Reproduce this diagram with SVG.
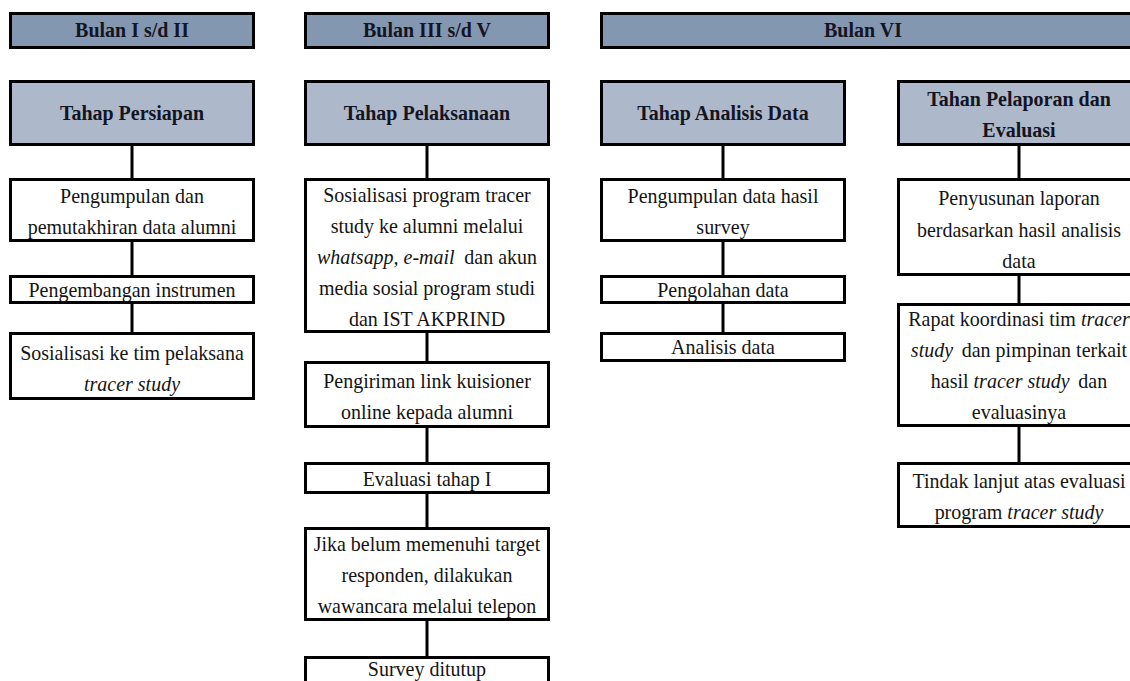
<svg xmlns="http://www.w3.org/2000/svg" width="1130" height="681" viewBox="0 0 1130 681">
<style>
.month{fill:#8497b0;stroke:#000;stroke-width:3}
.phase{fill:#adb9ca;stroke:#000;stroke-width:3}
.box{fill:#fff;stroke:#000;stroke-width:3}
.hd{font-family:"Liberation Serif","Times New Roman",serif;font-weight:bold;font-size:21.5px;fill:#141423;text-anchor:middle}
.tx{font-family:"Liberation Serif","Times New Roman",serif;font-size:21.5px;fill:#141414;text-anchor:middle}
.it{font-style:italic}
.conn line{stroke:#000;stroke-width:3}
</style>
<rect width="1130" height="681" fill="#fff"/>
<g class="conn">
<line x1="132" y1="146" x2="132" y2="178"/>
<line x1="132" y1="242" x2="132" y2="275"/>
<line x1="132" y1="304" x2="132" y2="332"/>
<line x1="427" y1="146" x2="427" y2="178"/>
<line x1="427" y1="333" x2="427" y2="361"/>
<line x1="427" y1="428" x2="427" y2="462"/>
<line x1="427" y1="494" x2="427" y2="527"/>
<line x1="427" y1="621" x2="427" y2="656"/>
<line x1="723" y1="146" x2="723" y2="178"/>
<line x1="723" y1="242" x2="723" y2="275"/>
<line x1="723" y1="304" x2="723" y2="332"/>
<line x1="1019" y1="146" x2="1019" y2="178"/>
<line x1="1019" y1="276" x2="1019" y2="303"/>
<line x1="1019" y1="427" x2="1019" y2="462"/>
</g>
<g id="m1"><rect class="month" x="10.5" y="13.5" width="243" height="34"/><g transform="matrix(0.93,0,0,1,9.24,0)"><text class="hd" x="132" y="37">Bulan I s/d II</text></g></g>
<g id="m2"><rect class="month" x="305.5" y="13.5" width="243" height="34"/><g transform="matrix(0.93,0,0,1,29.89,0)"><text class="hd" x="427" y="37">Bulan III s/d V</text></g></g>
<g id="m3"><rect class="month" x="601.5" y="13.5" width="540" height="34"/><g transform="matrix(0.93,0,0,1,60.41,0)"><text class="hd" x="863" y="37">Bulan VI</text></g></g>
<g id="p1"><rect class="phase" x="10.5" y="81.5" width="243" height="63"/><g transform="matrix(0.93,0,0,1,9.24,0)"><text class="hd" x="132" y="120">Tahap Persiapan</text></g></g>
<g id="p2"><rect class="phase" x="305.5" y="81.5" width="243" height="63"/><g transform="matrix(0.93,0,0,1,29.89,0)"><text class="hd" x="427" y="120">Tahap Pelaksanaan</text></g></g>
<g id="p3"><rect class="phase" x="601.5" y="81.5" width="243" height="63"/><g transform="matrix(0.93,0,0,1,50.61,0)"><text class="hd" x="723" y="120">Tahap Analisis Data</text></g></g>
<g id="p4"><rect class="phase" x="898.5" y="81.5" width="243" height="63"/><g transform="matrix(0.93,0,0,1,71.33,0)"><text class="hd" x="1019" y="106">Tahan Pelaporan dan</text><text class="hd" x="1019" y="137">Evaluasi</text></g></g>
<g id="a1"><rect class="box" x="10.5" y="179.5" width="243" height="61"/><g transform="matrix(0.93,0,0,1,9.24,0)"><text class="tx" x="132" y="203">Pengumpulan dan</text><text class="tx" x="132" y="234">pemutakhiran data alumni</text></g></g>
<g id="a2"><rect class="box" x="10.5" y="276.5" width="243" height="26"/><g transform="matrix(0.93,0,0,1,9.24,0)"><text class="tx" x="132" y="297">Pengembangan instrumen</text></g></g>
<g id="a3"><rect class="box" x="10.5" y="333.5" width="243" height="65"/><g transform="matrix(0.93,0,0,1,9.24,0)"><text class="tx" x="132" y="360">Sosialisasi ke tim pelaksana</text><text class="tx it" x="132" y="391">tracer study</text></g></g>
<g id="b1"><rect class="box" x="305.5" y="179.5" width="243" height="152"/><g transform="matrix(0.93,0,0,1,29.89,0)">
<text class="tx" x="427" y="202">Sosialisasi program tracer</text>
<text class="tx" x="427" y="233">study ke alumni melalui</text>
<text class="tx" x="427" y="264"><tspan class="it">whatsapp, e-mail</tspan><tspan dx="5"> dan akun</tspan></text>
<text class="tx" x="427" y="295">media sosial program studi</text>
<text class="tx" x="427" y="326">dan IST AKPRIND</text></g></g>
<g id="b2"><rect class="box" x="305.5" y="362.5" width="243" height="64"/><g transform="matrix(0.93,0,0,1,29.89,0)"><text class="tx" x="427" y="388">Pengiriman link kuisioner</text><text class="tx" x="427" y="419">online kepada alumni</text></g></g>
<g id="b3"><rect class="box" x="305.5" y="463.5" width="243" height="29"/><g transform="matrix(0.93,0,0,1,29.89,0)"><text class="tx" x="427" y="486">Evaluasi tahap I</text></g></g>
<g id="b4"><rect class="box" x="305.5" y="528.5" width="243" height="91"/><g transform="matrix(0.93,0,0,1,29.89,0)"><text class="tx" x="427" y="551">Jika belum memenuhi target</text><text class="tx" x="427" y="582">responden, dilakukan</text><text class="tx" x="427" y="613">wawancara melalui telepon</text></g></g>
<g id="b5"><rect class="box" x="305.5" y="657.5" width="243" height="40"/><g transform="matrix(0.93,0,0,1,29.89,0)"><text class="tx" x="427" y="676">Survey ditutup</text></g></g>
<g id="c1"><rect class="box" x="601.5" y="179.5" width="243" height="61"/><g transform="matrix(0.93,0,0,1,50.61,0)"><text class="tx" x="723" y="203">Pengumpulan data hasil</text><text class="tx" x="723" y="234">survey</text></g></g>
<g id="c2"><rect class="box" x="601.5" y="276.5" width="243" height="26"/><g transform="matrix(0.93,0,0,1,50.61,0)"><text class="tx" x="723" y="297">Pengolahan data</text></g></g>
<g id="c3"><rect class="box" x="601.5" y="333.5" width="243" height="27"/><g transform="matrix(0.93,0,0,1,50.61,0)"><text class="tx" x="723" y="354">Analisis data</text></g></g>
<g id="d1"><rect class="box" x="898.5" y="179.5" width="243" height="95"/><g transform="matrix(0.93,0,0,1,71.33,0)"><text class="tx" x="1019" y="205">Penyusunan laporan</text><text class="tx" x="1019" y="237">berdasarkan hasil analisis</text><text class="tx" x="1019" y="268">data</text></g></g>
<g id="d2"><rect class="box" x="898.5" y="304.5" width="243" height="121"/><g transform="matrix(0.93,0,0,1,71.33,0)">
<text class="tx" x="1019" y="326">Rapat koordinasi tim <tspan class="it">tracer</tspan></text>
<text class="tx" x="1019" y="357"><tspan class="it">study</tspan><tspan dx="4"> dan pimpinan terkait</tspan></text>
<text class="tx" x="1019" y="388">hasil <tspan class="it">tracer study</tspan><tspan dx="4"> dan</tspan></text>
<text class="tx" x="1019" y="419">evaluasinya</text></g></g>
<g id="d3"><rect class="box" x="898.5" y="463.5" width="243" height="63"/><g transform="matrix(0.93,0,0,1,71.33,0)"><text class="tx" x="1019" y="488">Tindak lanjut atas evaluasi</text><text class="tx" x="1019" y="519">program <tspan class="it">tracer study</tspan></text></g></g>
</svg>
